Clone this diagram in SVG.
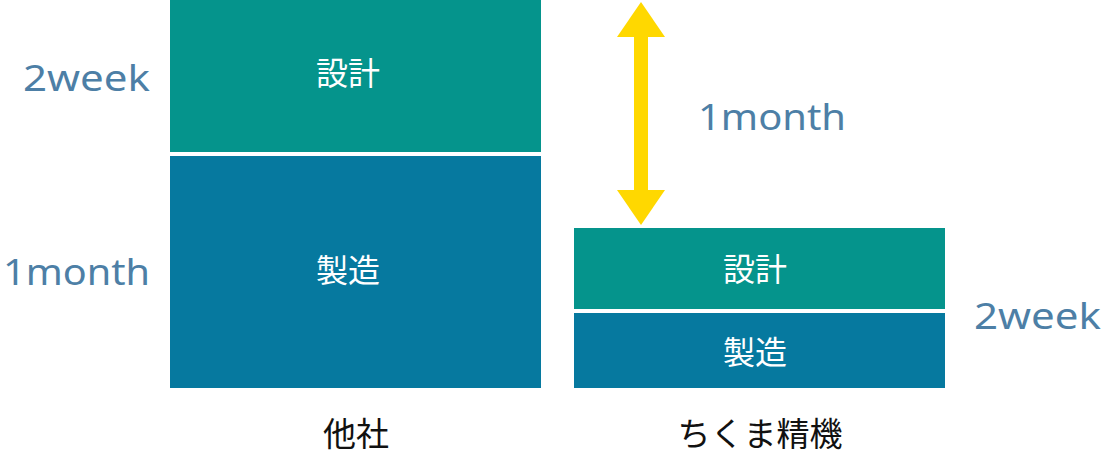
<svg xmlns="http://www.w3.org/2000/svg" width="1103" height="454" viewBox="0 0 1103 454">
<style>
.d{fill:#05948C}.m{fill:#06799F}
.w{fill:#fff;font-family:"Noto Sans CJK JP",sans-serif;font-size:32px;text-anchor:middle}
.l{fill:#4D7FA6;font-family:"Noto Sans","Liberation Sans",sans-serif;font-size:36px}
.b{fill:#111;font-family:"Noto Sans CJK JP",sans-serif;font-size:33px;text-anchor:middle}
</style>
<rect width="1103" height="454" fill="#fff"/>
<g id="other">
<rect class="d" x="170" y="0" width="371" height="152"/>
<text class="w" x="348" y="85">設計</text>
<rect class="m" x="170" y="156" width="371" height="232"/>
<text class="w" x="348" y="282">製造</text>
<text class="b" x="356" y="446">他社</text>
</g>
<g id="chikuma">
<rect class="d" x="574" y="228" width="371" height="81"/>
<text class="w" x="755" y="281">設計</text>
<rect class="m" x="574" y="313" width="371" height="75"/>
<text class="w" x="755" y="364">製造</text>
<text class="b" x="760" y="446">ちくま精機</text>
</g>
<g id="labels">
<text class="l" x="23" y="91" textLength="127" lengthAdjust="spacingAndGlyphs">2week</text>
<text class="l" x="3" y="285" textLength="147" lengthAdjust="spacingAndGlyphs">1month</text>
<text class="l" x="698" y="130" textLength="148" lengthAdjust="spacingAndGlyphs">1month</text>
<text class="l" x="974" y="329" textLength="127" lengthAdjust="spacingAndGlyphs">2week</text>
</g>
<g id="connectors">
<line x1="641" y1="30" x2="641" y2="196" stroke="#FFD800" stroke-width="14"/>
<polygon points="641,2 617,37 665,37" fill="#FFD800"/>
<polygon points="641,225 617,190 665,190" fill="#FFD800"/>
</g>
</svg>
